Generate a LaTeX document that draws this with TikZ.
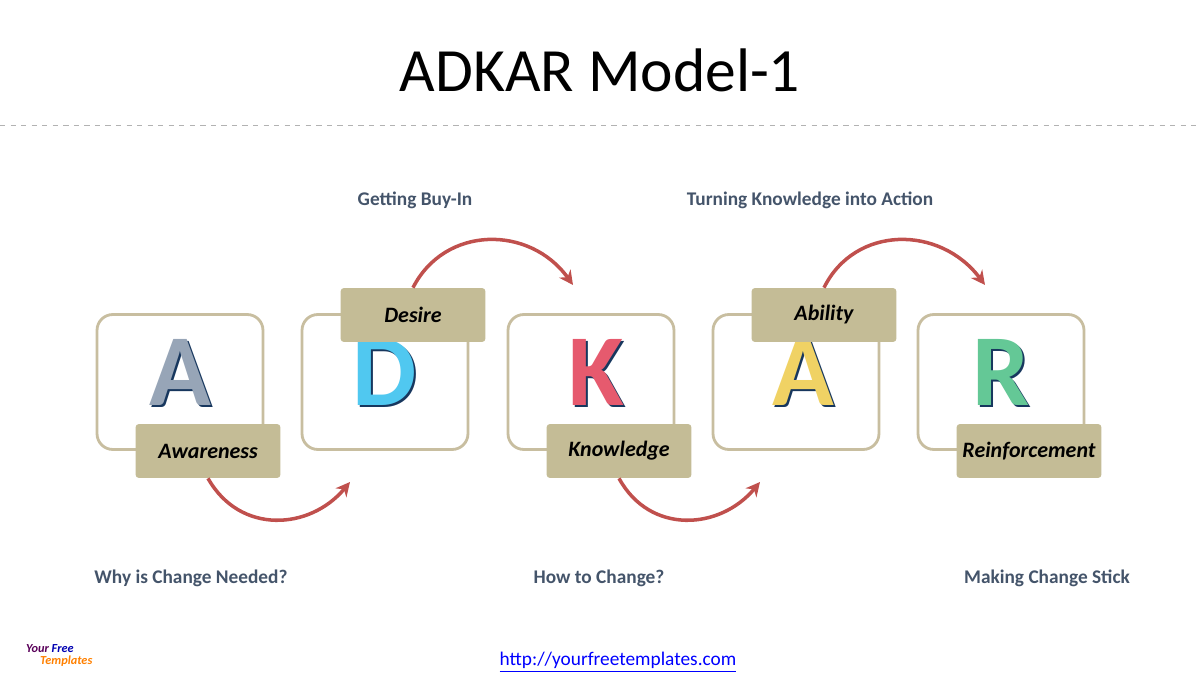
\documentclass[tikz,border=0pt]{standalone}
\usepackage{fontspec}
\setmainfont{Carlito}
\usetikzlibrary{positioning,arrows.meta,patterns,calc}
\definecolor{framebeige}{RGB}{200,190,160}
\definecolor{tagbeige}{RGB}{196,188,150}
\definecolor{arcred}{RGB}{192,80,77}
\definecolor{notegray}{RGB}{68,84,106}
\definecolor{letterdark}{RGB}{23,55,94}
\definecolor{dblue}{RGB}{80,200,240}
\definecolor{kred}{RGB}{230,90,110}
\definecolor{ayellow}{RGB}{240,210,100}
\definecolor{rgreen}{RGB}{100,200,150}
\tikzset{
  frame/.style={draw=framebeige, line width=1.6pt, rounded corners=9pt, fill=white},
  tag/.style={fill=tagbeige, rounded corners=2pt, minimum width=2.9cm, minimum height=1.08cm,
    font=\bfseries\itshape\fontsize{12.5}{14}\selectfont},
  note/.style={text=notegray, font=\bfseries\fontsize{11}{13}\selectfont},
  bigletter/.style={font=\bfseries\fontsize{58}{58}\selectfont},
  arc/.style={draw=arcred, line width=2pt, -{Stealth[length=8pt,width=8pt]}}
}
\newcommand{\adkarletter}[4]{%
  \node[bigletter, text=letterdark] (#1s) at ($(#2)+(2,2)$) {#3};
  \node[bigletter, text=#4] (#1) at (#2) {#3};
}
\begin{document}
\begin{tikzpicture}[x=0.02cm, y=-0.02cm]
\useasboundingbox (0,0) rectangle (1200,675);
% title
\node[font=\fontsize{35}{40}\selectfont] (title) at (600,70) {ADKAR Model-1};
\draw[gray!60, dashed, line width=0.4pt] (0,125) -- (1200,125);
% frames
\node[frame, minimum width=3.32cm, minimum height=2.7cm] (fa) at (180,382) {};
\node[frame, minimum width=3.32cm, minimum height=2.7cm] (fd) at (385,382) {};
\node[frame, minimum width=3.32cm, minimum height=2.7cm] (fk) at (591,382) {};
\node[frame, minimum width=3.32cm, minimum height=2.7cm] (fa2) at (796,382) {};
\node[frame, minimum width=3.32cm, minimum height=2.7cm] (fr) at (1001,382) {};
% letters
\adkarletter{la}{180,372}{A}{letterdark!45}
\adkarletter{ld}{385,372}{D}{dblue}
\adkarletter{lk}{596,372}{K}{kred}
\adkarletter{la2}{803,372}{A}{ayellow}
\adkarletter{lr}{1001,372}{R}{rgreen}
% tags
\node[tag] (aware) at (208,451) {Awareness};
\node[tag] (desire) at (413,315) {Desire};
\node[tag] (know) at (619,451) {Knowledge};
\node[tag] (abil) at (824,315) {Ability};
\node[tag] (reinf) at (1029,451) {Reinforcement};
% arcs
\draw[arc] (aware.south) .. controls (240,535) and (310,530) .. (350,482);
\draw[arc] (desire.north) .. controls (445,225) and (530,225) .. (573,285);
\draw[arc] (know.south) .. controls (650,535) and (720,530) .. (760,482);
\draw[arc] (abil.north) .. controls (855,225) and (940,225) .. (985,285);
% notes
\node[note] (n1) at (415,200) {Getting Buy-In};
\node[note] (n2) at (810,200) {Turning Knowledge into Action};
\node[note] (n3) at (191,578) {Why is Change Needed?};
\node[note] (n4) at (599,578) {How to Change?};
\node[note] (n5) at (1047,578) {Making Change Stick};
% footer
\node[text=blue, font=\fontsize{11}{13}\selectfont] (url) at (618,662) {\underline{http://yourfreetemplates.com}};
\node[font=\bfseries\itshape\fontsize{7}{8}\selectfont, text=violet!70!black, anchor=west] (logo1) at (20,649) {Your \textcolor{blue!70!black}{Free}};
\node[font=\bfseries\itshape\fontsize{7}{8}\selectfont, text=orange, anchor=west] (logo2) at (34,661) {Templates};
\end{tikzpicture}
\end{document}
